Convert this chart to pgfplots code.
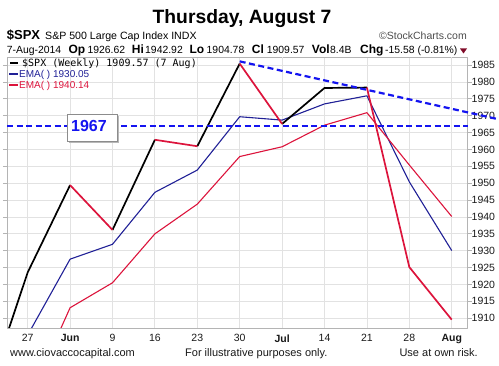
\documentclass[border=0pt]{standalone}
\usepackage{pgfplots}
\pgfplotsset{compat=1.18}
\usepackage{fontspec}
\setmainfont{Liberation Sans}
\newfontfamily\monofont{DejaVu Sans Mono}
\definecolor{crim}{RGB}{220,20,60}
\definecolor{navyc}{RGB}{32,32,150}
\definecolor{dblue}{RGB}{20,20,240}
\definecolor{gridc}{RGB}{226,226,226}
\definecolor{gridm}{RGB}{200,200,200}
\definecolor{framec}{RGB}{180,180,180}
\definecolor{maroonc}{RGB}{128,10,40}
\begin{document}
\begin{tikzpicture}
\path[use as bounding box] (0pt,0pt) rectangle (499pt,366pt);
\begin{axis}[
  at={(7pt,38pt)}, anchor=south west,
  scale only axis, width=460.7pt, height=271pt,
  xmin=-0.488, xmax=10.377, ymin=1907.1, ymax=1987.4,
  axis line style={framec, line width=0.8pt},
  xtick={0,...,10},
  xticklabels={27,\textbf{Jun},9,16,23,30,\textbf{Jul},14,21,28,\textbf{Aug}},
  extra x ticks={1,6,10},
  extra x tick labels={},
  extra x tick style={grid style={gridm, line width=0.9pt}},
  ytick={1910,1915,...,1985},
  yticklabel pos=right,
  scaled y ticks=false,
  /pgf/number format/fixed,
  /pgf/number format/precision=0,
  /pgf/number format/1000 sep={},
  /pgf/number format/assume math mode=true,
  grid=major, major grid style={gridc, line width=0.8pt},
  xtick style={draw=none},
  ytick style={framec, line width=0.8pt},
  major tick length=4pt, tick align=outside,
  ticklabel style={font=\fontsize{10.5}{12}\selectfont, text=black!90},
  xticklabel style={yshift=1pt},
  yticklabel style={xshift=-3.5pt},
  line join=round,
  unbounded coords=jump,
]
\addplot[navyc, line width=1.1pt] coordinates {
  (0,1905.0) (1,1927.5) (2,1931.9) (3,1947.3) (4,1953.9) (5,1969.7)
  (6,1968.7) (7,1973.5) (8,1975.9) (9,1950.4) (10,1930.05)};
\addplot[crim, line width=1.1pt] coordinates {
  (0,1885.1) (1,1913.1) (2,1920.5) (3,1935.0) (4,1943.8) (5,1957.9)
  (6,1960.8) (7,1967.2) (8,1970.9) (9,1955.4) (10,1940.14)};
% weekly close: rising weeks in black
\addplot[black, line width=1.7pt] coordinates {
  (-1,1886.0) (0,1923.57) (1,1949.44) (1.5,nan)
  (2,1936.16) (3,1962.87) (3.5,nan)
  (4,1960.96) (5,1985.44) (5.5,nan)
  (6,1967.57) (7,1978.22) (8,1978.34)};
% weekly close: falling weeks in red
\addplot[crim, line width=1.7pt] coordinates {
  (1,1949.44) (2,1936.16) (2.5,nan)
  (3,1962.87) (4,1960.96) (4.5,nan)
  (5,1985.44) (6,1967.57) (6.5,nan)
  (8,1978.34) (9,1925.15) (10,1909.57)};
\end{axis}
\begin{axis}[
  at={(7pt,38pt)}, anchor=south west,
  scale only axis, width=460.7pt, height=271pt,
  xmin=-0.488, xmax=10.377, ymin=1907.1, ymax=1987.4,
  hide axis, clip=false,
]
\addplot[dblue, line width=2.2pt, dash pattern=on 6pt off 3.5pt] coordinates {(5.0,1986.1) (11.12,1968.9)};
\addplot[dblue, line width=2.2pt, dash pattern=on 6pt off 3.5pt] coordinates {(-0.488,1967) (10.377,1967)};
\end{axis}
% 1967 box
\fill[black!28] (69pt,223pt) rectangle (119pt,250pt);
\filldraw[fill=white, draw=black!45, line width=0.8pt] (67pt,225pt) rectangle (117pt,252pt);
\node[anchor=base west, inner sep=0, text=dblue, font=\bfseries\fontsize{16}{18}\selectfont] at (71pt,234.3pt) {1967};
% legend
\draw[black, line width=2pt] (10pt,303.2pt) -- (18pt,303.2pt);
\node[anchor=base west, inner sep=0, font=\monofont\fontsize{10}{12}\selectfont] at (22pt,299.5pt) {\$SPX (Weekly) 1909.57 (7 Aug)};
\draw[navyc, line width=2pt] (9pt,291.5pt) -- (18pt,291.5pt);
\node[anchor=base west, inner sep=0, text=navyc, font=\fontsize{10}{12}\selectfont] at (19pt,288pt) {EMA( ) 1930.05};
\draw[crim, line width=2pt] (9pt,281pt) -- (18pt,281pt);
\node[anchor=base west, inner sep=0, text=crim, font=\fontsize{10}{12}\selectfont] at (19pt,277.5pt) {EMA( ) 1940.14};
% title and header
\node[anchor=base, inner sep=0, font=\bfseries\fontsize{19.3}{22}\selectfont] at (242pt,342.7pt) {Thursday, August 7};
\node[anchor=base west, inner sep=0, font=\bfseries\fontsize{13}{15}\selectfont] at (6.7pt,326pt) {\$SPX};
\node[anchor=base west, inner sep=0, font=\fontsize{10.6}{12}\selectfont] at (45pt,326pt) {S\&P 500 Large Cap Index INDX};
\node[anchor=base east, inner sep=0, text=black!70, font=\fontsize{10.5}{12}\selectfont] at (467pt,326pt) {©StockCharts.com};
\begin{scope}[every node/.style={anchor=base west, inner sep=0, font=\fontsize{10.4}{12}\selectfont}]
\node at (6.7pt,312.7pt) {7-Aug-2014};
\node[font=\bfseries\fontsize{12}{12}\selectfont] at (68.3pt,312.7pt) {Op};
\node at (87.3pt,312.7pt) {1926.62};
\node[font=\bfseries\fontsize{12}{12}\selectfont] at (131.7pt,312.7pt) {Hi};
\node at (145pt,312.7pt) {1942.92};
\node[font=\bfseries\fontsize{12}{12}\selectfont] at (189.3pt,312.7pt) {Lo};
\node at (206.5pt,312.7pt) {1904.78};
\node[font=\bfseries\fontsize{12}{12}\selectfont] at (251.7pt,312.7pt) {Cl};
\node at (266.7pt,312.7pt) {1909.57};
\node[font=\bfseries\fontsize{12}{12}\selectfont] at (311.7pt,312.7pt) {Vol};
\node at (330pt,312.7pt) {8.4B};
\node[font=\bfseries\fontsize{12}{12}\selectfont] at (360pt,312.7pt) {Chg};
\node at (385pt,312.7pt) {-15.58 (-0.81\%)};
\end{scope}
\fill[maroonc] (460pt,317.5pt) -- (467pt,317.5pt) -- (463.5pt,312.5pt) -- cycle;
% footer
\node[anchor=base west, inner sep=0, text=black!90, font=\fontsize{11}{13}\selectfont] at (10pt,9.3pt) {www.ciovaccocapital.com};
\node[anchor=base west, inner sep=0, text=black!90, font=\fontsize{11}{13}\selectfont] at (185pt,9.3pt) {For illustrative purposes only.};
\node[anchor=base east, inner sep=0, text=black!90, font=\fontsize{11}{13}\selectfont] at (478pt,9.3pt) {Use at own risk.};
\end{tikzpicture}
\end{document}
